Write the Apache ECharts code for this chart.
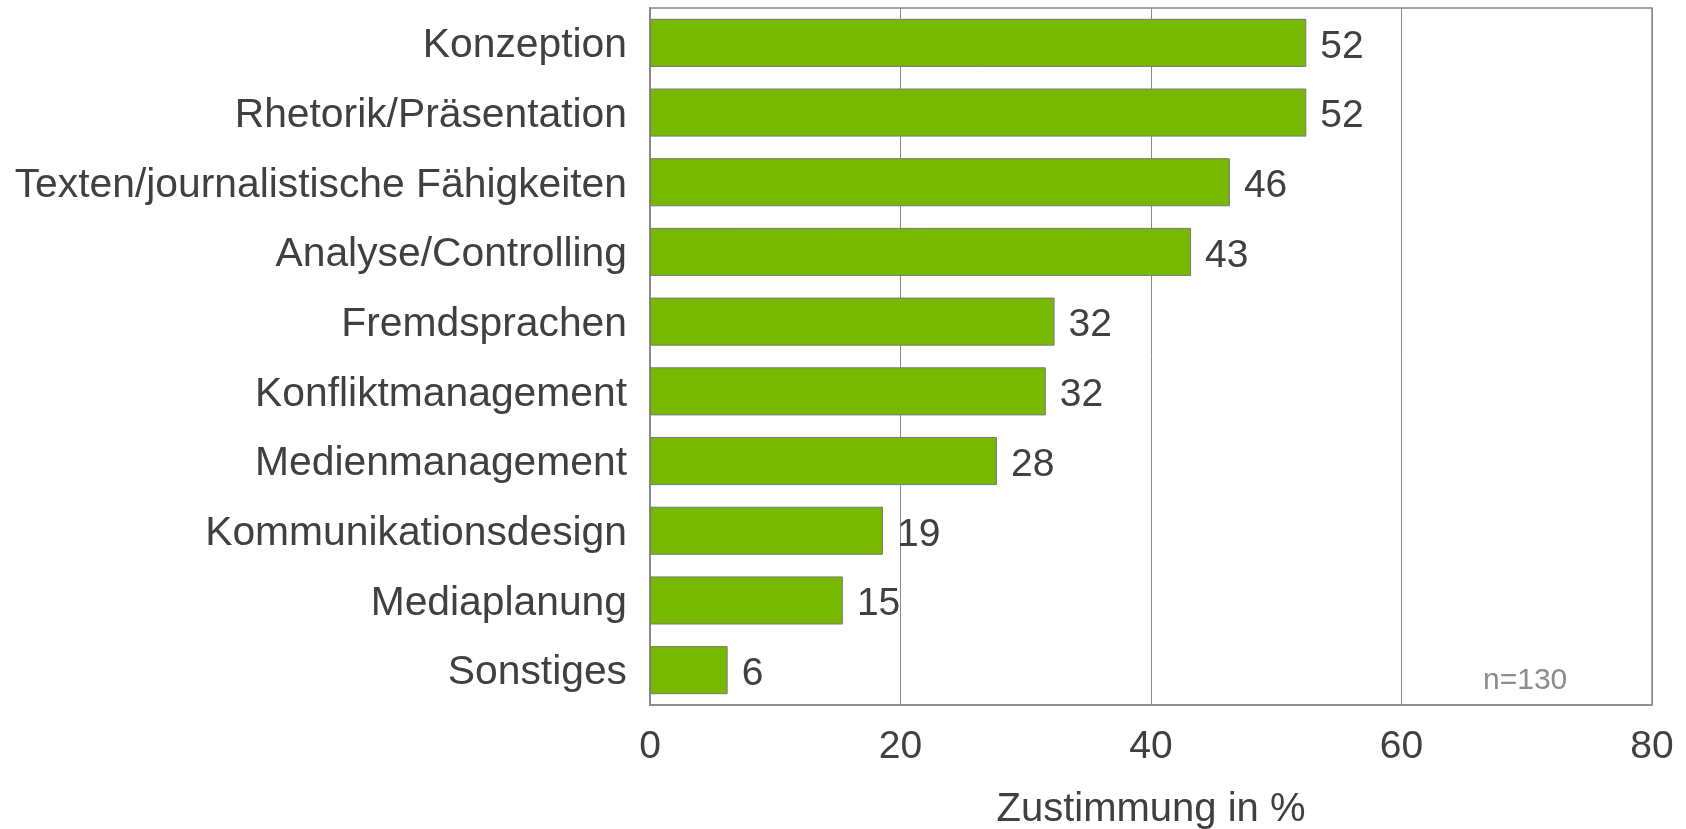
<!DOCTYPE html>
<html>
<head>
<meta charset="utf-8">
<script src="https://cdn.jsdelivr.net/npm/echarts@6/dist/echarts.min.js"></script>
<style>
html,body{margin:0;padding:0;background:#fff;}
#chart{width:1686px;height:829px;}
</style>
</head>
<body>
<div id="chart"></div>
<script>
const categories = ["Konzeption","Rhetorik/Präsentation","Texten/journalistische Fähigkeiten","Analyse/Controlling","Fremdsprachen","Konfliktmanagement","Medienmanagement","Kommunikationsdesign","Mediaplanung","Sonstiges"];
const values = [52.4, 52.4, 46.3, 43.2, 32.3, 31.6, 27.7, 18.6, 15.4, 6.2];
const valueLabels = [52, 52, 46, 43, 32, 32, 28, 19, 15, 6];
const xTicks = [0, 20, 40, 60, 80];
const axisTitle = "Zustimmung in %";
const sampleNote = "n=130";

const textColor = "#404040";
const font = "'Liberation Sans', Arial, sans-serif";
const chart = echarts.init(document.getElementById('chart'), null, {renderer:'canvas'});
chart.setOption({
  animation:false,
  backgroundColor:'#fff',
  grid:{left:650, right:34, top:8, bottom:124, show:true, borderColor:'#8a8a8a', borderWidth:1.5, containLabel:false, outerBoundsMode:'none'},
  xAxis:{
    type:'value', min:xTicks[0], max:xTicks[xTicks.length-1], interval:20,
    name:axisTitle, nameLocation:'middle', nameGap:85,
    nameTextStyle:{fontFamily:font, fontSize:40, color:textColor},
    axisLine:{show:true, lineStyle:{color:'#8a8a8a', width:1.5}},
    axisTick:{show:false},
    axisLabel:{fontFamily:font, fontSize:39, color:textColor, margin:23},
    splitLine:{show:true, lineStyle:{color:'#8a8a8a', width:1}}
  },
  yAxis:{
    type:'category', data:categories, inverse:true,
    axisLine:{show:true, lineStyle:{color:'#8a8a8a', width:2}},
    axisTick:{show:false},
    axisLabel:{fontFamily:font, fontSize:40.8, color:textColor, margin:23, verticalAlign:'top', lineHeight:6},
    splitLine:{show:false}
  },
  series:[{
    type:'bar', data:values, barCategoryGap:'31%',
    itemStyle:{color:'#77B800', borderColor:'#7a7a7a', borderWidth:1},
    label:{show:true, position:'right', distance:14, offset:[0,4], fontFamily:font, fontSize:39, color:textColor,
      formatter:(p)=>String(valueLabels[p.dataIndex])}
  }],
  graphic:[{
    type:'text', left:1483, top:666,
    style:{text:sampleNote, fontFamily:font, fontSize:30, fill:'#8c8c8c'}
  }]
});
</script>
</body>
</html>
